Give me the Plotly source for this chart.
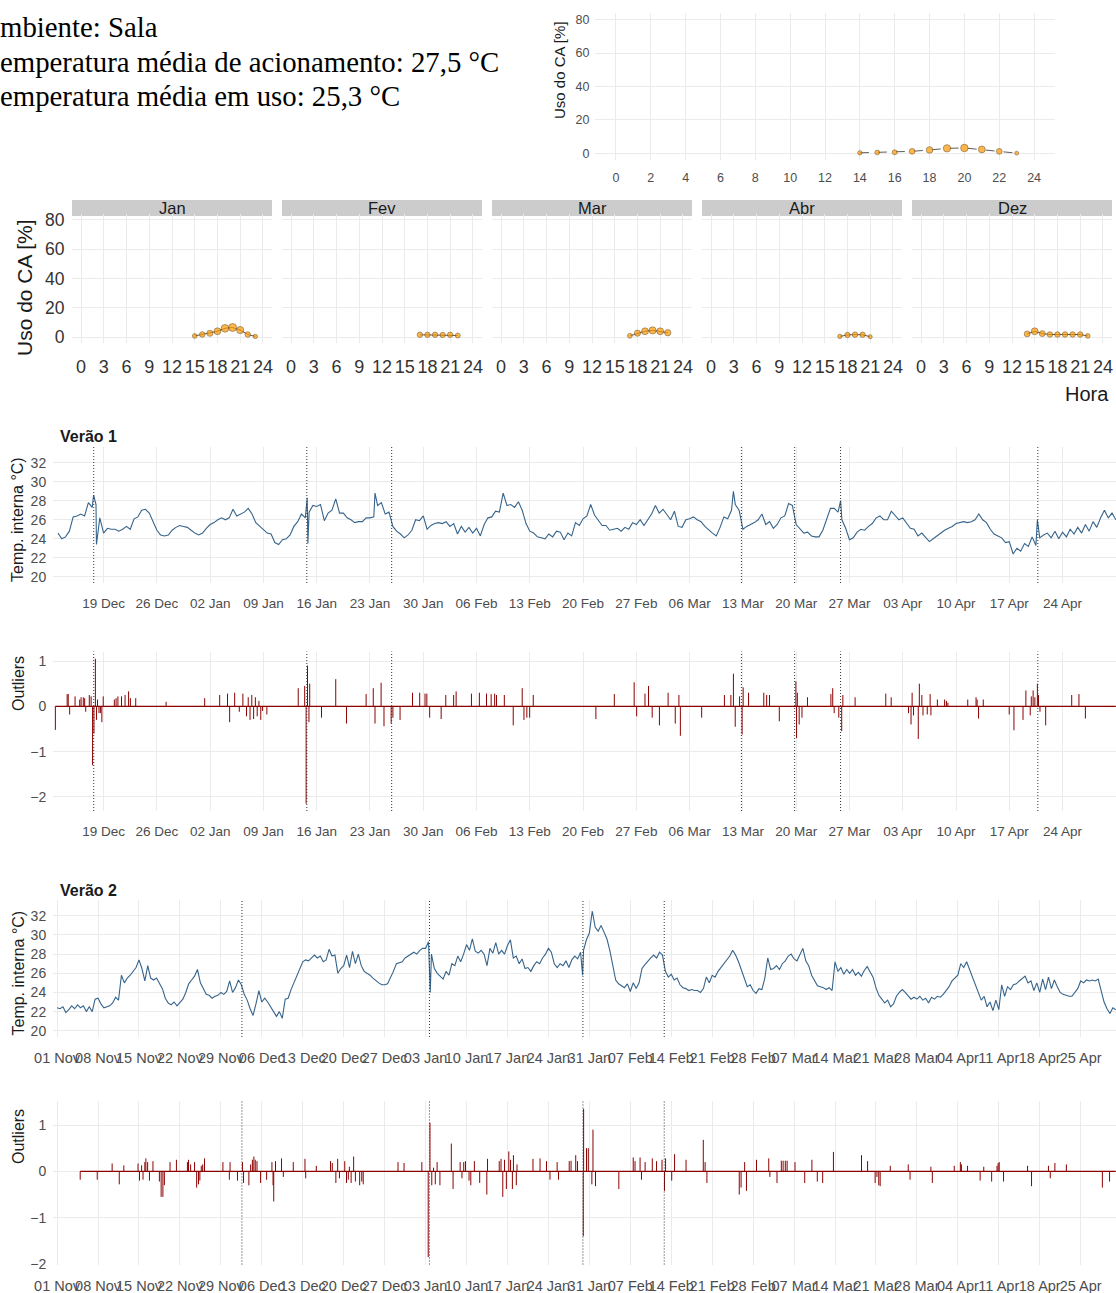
import pandas as pd
import plotly.graph_objects as go

W, H = 1116, 1293

# ---------------- dados ----------------
# texto do canto superior esquerdo (como aparece, recortado na borda)
info_texto = ["mbiente: Sala",
              "emperatura média de acionamento: 27,5 °C",
              "emperatura média em uso: 25,3 °C"]

# uso do CA por hora (todos os meses)
geral_hora = [14, 15, 16, 17, 18, 19, 20, 21, 22, 23]
geral_uso = [0.3, 0.5, 0.6, 1.2, 2.0, 3.0, 3.2, 2.3, 1.2, 0.1]

# uso do CA por hora, por mes
meses = ["Jan", "Fev", "Mar", "Abr", "Dez"]
jan_hora = [15, 16, 17, 18, 19, 20, 21, 22, 23]
jan_uso = [0.8, 1.8, 2.6, 4.0, 6.0, 6.6, 4.8, 1.8, 0.5]
fev_hora = [17, 18, 19, 20, 21, 22]
fev_uso = [1.6, 1.6, 1.6, 1.5, 1.6, 1.1]
mar_hora = [17, 18, 19, 20, 21, 22]
mar_uso = [0.9, 2.7, 4.0, 4.6, 4.0, 3.0]
abr_hora = [17, 18, 19, 20, 21]
abr_uso = [0.5, 1.5, 1.7, 1.6, 0.3]
dez_hora = [14, 15, 16, 17, 18, 19, 20, 21, 22]
dez_uso = [2.2, 4.0, 2.4, 1.8, 1.8, 1.8, 1.8, 1.8, 0.8]

# Verao 1: temperatura interna a cada 12 h, a partir de 13 Dec
v1_inicio = "2021-12-13"
v1_temp = [
    24.6, 24.0, 24.2, 24.8, 26.3, 26.4, 26.6, 26.4, 27.8, 27.3,
    27.6, 26.2, 24.6, 25.1, 25.0, 25.0, 24.8, 25.0, 25.3, 25.0,
    26.1, 26.3, 27.0, 27.1, 26.7, 25.7, 24.9, 24.4, 24.3, 24.4,
    24.9, 25.2, 25.4, 25.3, 25.2, 24.9, 24.6, 24.4, 24.6, 25.1,
    25.5, 25.7, 26.0, 26.2, 26.0, 26.2, 27.1, 26.4, 26.6, 26.8,
    27.2, 26.6, 25.7, 25.3, 24.9, 24.6, 24.5, 23.6, 23.4, 23.9,
    24.0, 24.4, 25.3, 25.8, 26.6, 26.2, 26.8, 27.5, 27.4, 27.6,
    25.9, 26.7, 27.0, 28.2, 26.7, 26.7, 26.2, 26.0, 25.7, 25.8,
    25.8, 26.2, 26.2, 26.3, 27.5, 27.8, 26.6, 26.8, 25.3, 24.8,
    24.5, 24.1, 24.4, 24.9, 26.0, 25.9, 26.4, 25.0, 25.4, 25.6,
    25.7, 25.6, 25.8, 25.3, 25.6, 24.5, 25.3, 24.7, 25.2, 24.6,
    25.1, 24.3, 25.5, 26.2, 26.3, 26.9, 26.8, 28.8, 27.5, 27.6,
    27.3, 27.9, 27.0, 25.6, 24.8, 24.6, 24.2, 24.1, 24.0, 24.5,
    24.2, 24.8, 24.7, 23.9, 24.6, 24.3, 25.7, 25.4, 26.1, 26.4,
    27.6, 26.5, 26.0, 25.4, 25.4, 24.9, 25.0, 25.1, 24.8, 25.2,
    25.0, 25.7, 25.5, 26.0, 25.4, 26.0, 26.6, 27.5, 26.7, 27.1,
    26.5, 26.0, 26.9, 25.3, 25.2, 26.0, 26.1, 26.3, 26.0, 25.8,
    25.3, 24.9, 24.6, 24.3, 25.2, 26.3, 26.1, 27.0, 27.6, 27.0,
    25.0, 25.3, 25.5, 25.7, 26.0, 26.6, 25.5, 25.8, 25.1, 25.5,
    26.2, 26.4, 27.7, 27.5, 25.5, 25.1, 24.6, 24.7, 24.3, 24.2,
    24.2, 24.9, 26.0, 27.2, 27.2, 26.8, 26.0, 25.1, 23.9, 24.1,
    24.7, 25.0, 24.9, 25.3, 25.6, 26.2, 26.4, 26.0, 26.0, 26.9,
    26.4, 26.0, 26.2, 25.7, 25.1, 25.0, 24.3, 24.6, 24.2, 23.7,
    24.0, 24.3, 24.6, 24.9, 25.1, 25.3, 25.6, 25.7, 25.8, 25.7,
    25.8, 26.0, 26.6, 26.0, 25.7, 25.0, 24.5, 24.3, 24.1, 23.6,
    23.7, 22.4, 23.0, 22.7, 23.5, 23.2, 24.2, 23.3, 24.1, 24.4,
    24.6, 24.1, 24.8, 24.0, 24.7, 24.2, 25.0, 24.5, 25.2, 24.6,
    25.5, 24.8, 25.8, 25.2, 26.2, 27.0, 26.2, 26.7, 26.0,
]
# picos rapidos (dias a partir de 19 Dec)
v1_pico_dia = [-1.31, -0.94, 26.75, 26.84, 35.66, 82.75, 96.84, 122.69]
v1_pico_temp = [28.6, 23.4, 28.3, 23.5, 28.8, 29.0, 28.0, 26.0]
# acionamentos (linhas pontilhadas), dias a partir de 19 Dec
v1_marcos = [-1.3, 26.7, 37.85, 83.8, 90.8, 96.83, 122.75]
# outliers Verao 1 (dias a partir de 19 Dec)
v1_out_dia = [
    -6.34, -4.79, -4.65, -4.46, -3.75, -3.14, -2.96, -2.67, -2.49, -2.35,
    -1.88, -1.64, -1.45, -1.27, -1.08, -0.94, -0.80, -0.61, -0.42, -0.23,
    -0.05, 1.41, 1.64, 1.88, 2.35, 2.82, 3.28, 3.52, 4.22, 8.21,
    13.28, 15.25, 16.28, 16.56, 17.22, 17.83, 18.30, 18.77, 19.00, 19.24,
    19.47, 19.71, 19.94, 20.18, 20.41, 20.65, 20.88, 21.45, 25.57, 26.42,
    26.61, 26.79, 26.98, 27.08, 28.63, 30.50, 31.91, 34.49, 35.43, 35.66,
    36.46, 36.84, 37.78, 38.01, 38.95, 40.59, 41.53, 42.23, 42.47, 42.84,
    44.35, 44.96, 45.99, 46.32, 48.33, 49.37, 50.31, 50.92, 51.38, 51.62,
    52.65, 53.82, 55.00, 55.23, 55.61, 55.98, 56.45, 64.68, 67.10, 69.71,
    70.04, 71.13, 71.60, 72.08, 73.03, 74.17, 75.11, 75.59, 75.78, 78.58,
    81.57, 82.42, 82.75, 82.99, 83.56, 83.89, 84.03, 84.74, 86.74, 87.12,
    87.50, 88.78, 90.96, 91.05, 91.15, 91.39, 91.76, 92.48, 95.56, 95.80,
    95.99, 96.60, 96.98, 97.13, 98.74, 102.77, 103.48, 105.76, 106.09, 106.23,
    106.42, 107.04, 107.18, 107.51, 107.66, 108.22, 108.60, 108.70, 109.55, 110.50,
    110.74, 110.93, 113.54, 114.63, 114.77, 114.96, 115.58, 118.99, 119.61, 120.80,
    121.18, 121.75, 121.89, 122.13, 122.36, 122.69, 122.84, 123.03, 123.78, 127.20,
    128.15, 129.00,
]
v1_out_val = [
    -0.52, 0.27, 0.27, -0.18, 0.22, 0.15, 0.20, 0.20, 0.18, -0.12,
    0.25, 0.22, -1.30, -0.60, 1.05, -0.30, 0.15, -0.15, -0.15, -0.35,
    0.22, 0.15, 0.18, 0.22, 0.22, 0.25, 0.33, 0.18, 0.18, 0.10,
    0.18, 0.25, 0.28, -0.35, 0.30, -0.12, 0.28, -0.22, 0.20, -0.30,
    0.25, -0.28, 0.20, -0.22, 0.12, -0.30, -0.10, -0.18, 0.40, 0.45,
    -2.15, 0.90, -0.35, 0.50, -0.25, 0.60, -0.38, 0.27, 0.40, -0.38,
    0.52, -0.44, -0.38, -0.25, -0.30, 0.30, 0.30, 0.28, 0.28, -0.25,
    -0.28, 0.25, 0.25, 0.33, 0.28, 0.30, 0.28, 0.27, 0.28, 0.25,
    0.25, -0.42, 0.40, -0.30, -0.25, -0.25, 0.25, -0.28, 0.27, 0.53,
    -0.22, 0.28, 0.45, -0.25, -0.42, 0.30, -0.38, 0.25, -0.65, -0.25,
    0.25, 0.25, 0.72, -0.45, 0.22, -0.62, 0.42, 0.30, 0.30, 0.25,
    0.25, -0.33, 0.55, -0.70, 0.30, -0.40, -0.25, 0.20, 0.27, 0.40,
    -0.15, -0.25, -0.55, 0.25, 0.20, 0.28, 0.20, -0.15, -0.40, 0.30,
    -0.20, -0.72, 0.50, 0.25, -0.20, -0.18, 0.27, -0.20, 0.15, 0.15,
    0.12, 0.08, 0.15, 0.20, 0.15, -0.27, 0.15, -0.18, -0.53, -0.30,
    0.35, -0.20, 0.22, 0.35, 0.20, 0.50, 0.25, -0.12, -0.42, 0.25,
    0.27, -0.27,
]

# Verao 2: temperatura interna a cada 12 h, a partir de 01 Nov
v2_inicio = "2022-11-01"
v2_temp = [
    22.4, 22.3, 22.5, 21.9, 22.2, 22.6, 22.3, 22.7, 22.4, 22.6,
    22.0, 22.5, 22.0, 23.3, 23.4, 22.8, 22.4, 22.5, 22.6, 22.9,
    23.5, 23.2, 25.8, 25.0, 25.5, 25.8, 26.2, 26.6, 27.4, 26.5,
    25.2, 26.8, 25.5, 25.3, 25.5, 25.0, 24.4, 23.4, 22.9, 22.7,
    23.0, 22.6, 22.9, 23.3, 24.0, 24.9, 25.3, 25.7, 26.4, 25.0,
    24.4, 23.8, 23.7, 23.4, 23.6, 23.7, 24.0, 23.8, 24.1, 25.2,
    24.0, 24.5, 25.3, 24.8, 23.8, 23.2, 22.3, 21.6, 22.8, 24.2,
    23.0, 23.4, 23.0, 22.5, 22.0, 21.5, 22.0, 21.3, 23.3, 23.4,
    24.3, 25.0, 25.8, 26.4, 27.2, 27.4, 27.3, 27.6, 27.9, 27.6,
    27.8, 27.2, 27.4, 28.5, 27.8, 27.9, 26.0, 26.5, 26.8, 27.9,
    26.6, 28.3, 27.0, 28.0, 26.8, 26.2, 26.0, 25.8, 25.5, 25.2,
    25.0, 24.8, 24.8, 24.9, 25.5, 26.2, 27.0, 27.1, 27.2, 27.6,
    27.8, 28.0, 28.2, 28.0, 28.4, 28.6, 28.6, 29.3, 28.0, 26.5,
    26.0, 25.7, 25.4, 26.2, 25.8, 27.0, 26.8, 27.8, 27.2, 28.0,
    29.0, 28.4, 29.6, 28.3, 28.1, 28.4, 28.0, 26.8, 28.6, 28.1,
    29.2, 28.0, 28.4, 28.0, 28.9, 29.5, 27.6, 27.8, 27.0, 27.5,
    26.5, 26.6, 26.2, 26.8, 27.2, 27.0, 27.6, 28.0, 28.6, 28.2,
    27.0, 26.6, 27.0, 26.8, 27.3, 26.6, 27.4, 27.8, 27.5, 28.2,
    28.4, 29.5, 30.2, 32.5, 30.8, 30.4, 31.0, 30.3, 29.6, 28.4,
    27.0, 25.3, 24.9, 24.7, 24.5, 24.9, 24.1, 25.0, 24.4, 25.0,
    26.5, 26.9, 27.3, 27.6, 27.9, 27.6, 28.2, 27.9, 26.2, 25.6,
    25.9, 25.3, 25.5, 24.8, 24.5, 24.4, 24.2, 24.3, 24.2, 24.2,
    24.0, 24.4, 25.6, 25.0, 25.8, 25.6, 26.2, 26.6, 27.0, 27.4,
    27.8, 28.4, 27.9, 27.2, 26.4, 25.6, 24.6, 24.8, 24.2, 23.9,
    24.4, 24.3, 25.5, 27.6, 26.4, 26.5, 26.8, 26.4, 27.0, 27.3,
    27.8, 28.0, 27.5, 27.3, 28.0, 28.6, 27.3, 26.8, 25.8, 25.2,
    24.7, 24.6, 24.5, 24.3, 24.5, 24.2, 27.2, 26.2, 26.6, 25.9,
    26.4, 26.0, 26.4, 25.8, 26.1, 25.7, 26.3, 26.7, 26.1, 25.6,
    24.5, 23.7, 23.3, 22.9, 23.2, 22.5, 22.8, 23.6, 24.0, 24.3,
    24.0, 23.6, 23.3, 23.5, 23.3, 23.6, 23.2, 23.4, 22.9, 23.5,
    23.3, 23.6, 23.5, 23.8, 24.2, 24.6, 25.2, 25.5, 25.8, 27.0,
    26.6, 27.2, 26.4, 25.6, 24.8, 23.8, 23.2, 23.6, 22.5, 23.0,
    22.1, 23.2, 22.2, 24.8, 23.6, 24.6, 24.3, 24.8, 24.9, 25.2,
    25.5, 25.7, 25.0, 25.2, 24.2, 25.0, 24.0, 25.4, 24.3, 25.6,
    24.4, 25.3, 24.6, 24.0, 23.8, 23.7, 23.6, 23.6, 24.0, 24.4,
    25.2, 25.0, 25.3, 25.2, 25.3, 25.2, 25.4, 24.2, 23.0, 22.3,
    21.8, 22.4, 22.2,
]
v2_pico_dia = [63.8, 89.85]
v2_pico_temp = [24.0, 25.8]
v2_marcos = [31.6, 63.66, 89.9, 103.8]
# outliers Verao 2 (dias a partir de 01 Nov)
v2_out_dia = [
    3.95, 6.86, 9.41, 10.63, 11.41, 13.84, 14.09, 14.45, 14.69, 15.00,
    15.18, 15.48, 15.79, 16.39, 17.49, 17.79, 18.09, 18.34, 19.31, 20.40,
    22.28, 22.47, 22.83, 23.50, 23.86, 24.17, 24.41, 24.65, 24.89, 25.20,
    28.35, 29.45, 29.57, 30.84, 31.69, 31.88, 32.79, 33.09, 33.39, 33.64,
    33.88, 34.18, 34.79, 35.82, 36.73, 36.92, 37.04, 37.34, 38.37, 38.68,
    40.38, 42.38, 42.50, 44.32, 46.75, 47.05, 47.66, 47.97, 48.27, 49.18,
    49.48, 49.79, 49.97, 50.27, 50.70, 51.00, 51.73, 52.09, 52.34, 58.29,
    59.32, 62.36, 63.45, 63.75, 64.06, 64.36, 64.66, 64.97, 65.45, 67.40,
    67.70, 68.91, 69.22, 69.52, 69.82, 70.43, 70.73, 71.34, 72.25, 73.47,
    73.59, 75.59, 75.90, 76.20, 76.50, 76.81, 77.23, 77.53, 77.84, 78.02,
    78.51, 78.63, 81.36, 82.57, 83.67, 84.27, 85.49, 85.73, 87.56, 87.87,
    88.67, 88.97, 89.96, 90.02, 90.51, 90.82, 91.43, 91.62, 92.05, 96.04,
    98.50, 98.81, 99.67, 99.91, 100.53, 101.76, 102.49, 103.42, 103.85, 104.03,
    105.08, 105.57, 107.53, 110.48, 110.79, 111.10, 116.63, 116.94, 117.55, 117.86,
    119.58, 121.67, 121.86, 123.08, 123.82, 124.13, 124.50, 124.81, 126.16, 127.82,
    129.05, 129.97, 130.89, 132.73, 137.53, 138.57, 139.86, 140.17, 140.48, 140.72,
    142.45, 145.52, 145.83, 149.39, 149.64, 153.39, 154.43, 154.61, 155.66, 157.81,
    158.43, 159.78, 160.70, 160.89, 161.07, 161.81, 165.92, 166.60, 169.49, 169.80,
    170.59, 172.56, 178.71, 179.94,
]
v2_out_val = [
    -0.18, -0.18, 0.17, -0.28, 0.13, 0.17, -0.20, 0.13, -0.18, 0.20,
    0.28, 0.20, -0.20, 0.22, -0.22, -0.55, -0.55, -0.30, 0.20, 0.25,
    0.20, 0.25, 0.15, 0.20, -0.35, -0.28, -0.20, 0.12, 0.15, 0.28,
    0.20, -0.18, 0.20, -0.20, 0.20, -0.25, -0.30, 0.15, 0.25, 0.32,
    0.25, 0.22, -0.25, -0.18, 0.20, -0.30, -0.65, 0.22, 0.28, -0.12,
    0.20, 0.27, -0.15, 0.12, 0.22, 0.18, -0.25, 0.27, -0.15, 0.22,
    -0.25, -0.18, 0.10, -0.25, 0.32, -0.22, -0.30, -0.22, -0.28, 0.20,
    0.18, 0.20, -1.85, 1.05, -0.30, 0.08, -0.28, 0.20, -0.30, 0.60,
    -0.38, 0.20, -0.15, 0.20, 0.22, -0.20, -0.30, 0.22, -0.25, -0.50,
    0.27, 0.22, 0.27, -0.55, 0.25, -0.38, 0.43, 0.25, -0.38, 0.35,
    -0.30, 0.15, 0.27, 0.28, 0.22, -0.18, 0.20, -0.18, 0.22, 0.23,
    0.35, 0.22, -1.40, 1.35, 0.50, 0.50, -0.28, 0.90, -0.32, -0.38,
    0.30, 0.22, 0.30, -0.18, 0.20, 0.28, 0.22, 0.25, -0.42, 0.28,
    -0.20, 0.37, 0.25, 0.68, 0.20, -0.25, -0.50, -0.35, 0.20, -0.42,
    0.25, 0.28, -0.12, -0.25, 0.23, 0.23, 0.23, 0.23, 0.20, -0.25,
    0.25, -0.22, -0.25, 0.42, 0.35, 0.22, -0.25, -0.12, -0.30, -0.32,
    0.12, 0.15, -0.18, 0.10, -0.25, 0.12, 0.20, 0.15, 0.12, -0.20,
    0.10, -0.22, 0.12, 0.18, 0.20, -0.22, 0.12, -0.32, 0.12, -0.15,
    0.18, 0.15, -0.35, -0.22,
]

# ---------------- montagem ----------------
fonte = "Liberation Sans, Arial, sans-serif"
grade = "#EBEBEB"
cinza = "#4D4D4D"
azul = "#36648B"
vermelho = "#8B0000"
laranja = "#FF9900"
DIA = 86400000


def dom_x(a, b):
    return [a / W, b / W]


def dom_y(topo, base):
    return [1 - base / H, 1 - topo / H]


def eixo(domain, rng, **kw):
    d = dict(domain=domain, range=rng, showgrid=True, gridcolor=grade, gridwidth=1,
             zeroline=False, showline=False, ticks="outside", ticklen=0, automargin=False,
             tickcolor="rgba(0,0,0,0)", tickangle=0,
             tickfont=dict(size=14, color=cinza, family=fonte))
    d.update(kw)
    return d


def rotulo(texto, x, y, tam, **kw):
    d = dict(text=texto, x=x / W, y=1 - y / H, xref="paper", yref="paper",
             xanchor="center", yanchor="middle", showarrow=False,
             font=dict(size=tam, color="#1a1a1a", family=fonte))
    d.update(kw)
    return d


def serie(inicio, valores, ref, pico_dia, pico_val):
    base = pd.Series(valores, index=pd.date_range(inicio, periods=len(valores), freq="12h"))
    picos = pd.Series(pico_val, index=ref + pd.to_timedelta(pico_dia, unit="D"))
    return pd.concat([base, picos]).sort_index()


def hastes(tempos, valores):
    xs, ys = [], []
    for t, v in zip(tempos, valores):
        xs += [t, t, None]
        ys += [0, v, None]
    return xs, ys


fig = go.Figure()
layout = dict(width=W, height=H, margin=dict(l=0, r=0, t=0, b=0, autoexpand=False),
              paper_bgcolor="white", plot_bgcolor="white", showlegend=False,
              font=dict(family=fonte, color="#1a1a1a"))
shapes, annots = [], []

# grafico geral (canto superior direito)
fig.add_trace(go.Scatter(
    x=geral_hora, y=geral_uso, mode="lines+markers", xaxis="x", yaxis="y",
    line=dict(color="#333333", width=0.8, dash="dash"),
    marker=dict(size=[3 + 2.5 * v ** 0.5 for v in geral_uso], color=laranja,
                line=dict(color="#5a3a00", width=0.7))))
layout["xaxis"] = eixo(dom_x(595, 1055), [-1.2, 25.2], tickvals=list(range(0, 25, 2)),
                       ticklen=6, anchor="y", tickfont=dict(size=12.5, color=cinza))
layout["yaxis"] = eixo(dom_y(13, 160), [-4, 84], tickvals=[0, 20, 40, 60, 80],
                       ticklen=2, anchor="x", tickfont=dict(size=12.5, color=cinza))
annots.append(rotulo("Uso do CA [%]", 560, 70, 15, textangle=-90))

# facetas por mes
facetas = [(jan_hora, jan_uso), (fev_hora, fev_uso), (mar_hora, mar_uso),
           (abr_hora, abr_uso), (dez_hora, dez_uso)]
esquerda = [72, 282, 492, 702, 912]
for i, (mes, (hora, uso), x0) in enumerate(zip(meses, facetas, esquerda)):
    n = i + 2
    fig.add_trace(go.Scatter(
        x=hora, y=uso, mode="lines+markers", xaxis=f"x{n}", yaxis=f"y{n}",
        line=dict(color="#333333", width=0.8),
        marker=dict(size=[3 + 1.9 * v ** 0.5 for v in uso], color=laranja,
                    line=dict(color="#5a3a00", width=0.7))))
    layout[f"xaxis{n}"] = eixo(dom_x(x0, x0 + 200), [-1.2, 25.2], tickvals=list(range(0, 25, 3)),
                               ticklen=7, anchor=f"y{n}",
                               tickfont=dict(size=18, color="#333333"))
    layout[f"yaxis{n}"] = eixo(dom_y(214, 343), [-4, 84], tickvals=[0, 20, 40, 60, 80],
                               ticklen=3, anchor=f"x{n}", showticklabels=(i == 0),
                               tickfont=dict(size=17.5, color="#333333"))
    shapes.append(dict(type="rect", xref="paper", yref="paper", x0=x0 / W, x1=(x0 + 200) / W,
                       y0=1 - 216 / H, y1=1 - 200 / H, fillcolor="#CCCCCC",
                       line=dict(width=0), layer="below"))
    annots.append(rotulo(mes, x0 + 100, 208.5, 16.5))
annots.append(rotulo("Uso do CA [%]", 24, 288, 21, textangle=-90))
annots.append(rotulo("Hora", 1111, 394, 20, xanchor="right"))

# series temporais
verao = [
    ("Verão 1", pd.Timestamp("2021-12-19"), v1_inicio, v1_temp, v1_pico_dia, v1_pico_temp,
     v1_marcos, v1_out_dia, v1_out_val, (-6.65, 133.02), (447, 583), (651.5, 811),
     [-2.31, 1.21], 436, 7, 13.5, 684),
    ("Verão 2", pd.Timestamp("2022-11-01"), v2_inicio, v2_temp, v2_pico_dia, v2_pico_temp,
     v2_marcos, v2_out_dia, v2_out_val, (-0.70, 181.04), (900, 1037), (1101.4, 1264.5),
     [-2.01, 1.51], 890, 9, 14.5, 1137),
]
for (titulo, ref, inicio, temp, pdia, pval, marcos, odia, oval, xr, ytemp, yout,
     orng, ytit, n, tam_x, y_out_tit) in verao:
    s = serie(inicio, temp, ref, pdia, pval)
    faixa = [ref + pd.Timedelta(days=xr[0]), ref + pd.Timedelta(days=xr[1])]
    fig.add_trace(go.Scatter(x=s.index, y=s.values, mode="lines", xaxis=f"x{n}", yaxis=f"y{n}",
                             line=dict(color=azul, width=1.1)))
    t_out = ref + pd.to_timedelta(odia, unit="D")
    xs, ys = hastes(t_out, oval)
    fig.add_trace(go.Scatter(x=[t_out[0], s.index[-1]], y=[0, 0], mode="lines",
                             xaxis=f"x{n + 1}", yaxis=f"y{n + 1}",
                             line=dict(color=vermelho, width=1.1)))
    fig.add_trace(go.Scatter(x=xs, y=ys, mode="lines", xaxis=f"x{n + 1}", yaxis=f"y{n + 1}",
                             line=dict(color=vermelho, width=1), connectgaps=False))
    for k in (n, n + 1):
        layout[f"xaxis{k}"] = eixo(dom_x(53, W), faixa, type="date", tick0=ref.strftime("%Y-%m-%d"),
                                   dtick=7 * DIA, tickformat="%d %b", ticklen=8, anchor=f"y{k}",
                                   tickfont=dict(size=tam_x, color=cinza))
    layout[f"yaxis{n}"] = eixo(dom_y(*ytemp), [19.35, 33.65], tickvals=list(range(20, 33, 2)),
                               ticklen=3, anchor=f"x{n}")
    layout[f"yaxis{n + 1}"] = eixo(dom_y(*yout), orng, tickvals=[-2, -1, 0, 1],
                                   ticklen=3, anchor=f"x{n + 1}")
    for d in marcos:
        t = (ref + pd.Timedelta(days=d)).isoformat()
        for k in (n, n + 1):
            shapes.append(dict(type="line", xref=f"x{k}", yref=f"y{k} domain", x0=t, x1=t,
                               y0=0, y1=1, line=dict(color="#333333", width=1, dash="1px,2px")))
    annots.append(rotulo(f"<b>{titulo}</b>", 58, ytit, 16, xanchor="left"))
    annots.append(rotulo("Temp. interna °C)", 18, (ytemp[0] + ytemp[1]) / 2 + 5, 16, textangle=-90))
    annots.append(rotulo("Outliers", 18, y_out_tit, 16, textangle=-90))

# texto do canto superior esquerdo
serif = dict(size=28.8, color="black", family="Liberation Serif, Times New Roman, serif")
for texto, ypx in zip(info_texto, [27, 62, 96]):
    annots.append(rotulo(texto, -2, ypx, 28.8, xanchor="left", font=serif))

layout["shapes"] = shapes
layout["annotations"] = annots
fig.update_layout(**layout)
fig.write_html("out.html", config={"displayModeBar": False},
               post_script="document.body.style.margin='0px';"
                           "document.body.style.overflow='hidden';")
